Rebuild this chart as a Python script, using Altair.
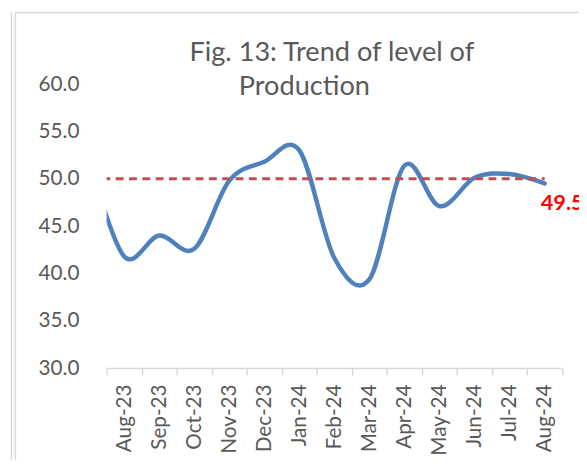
import altair as alt
import pandas as pd

# Data (Jul-23 is just left of the visible range; the lines are clipped at the plot edge)
months = ["Jul-23", "Aug-23", "Sep-23", "Oct-23", "Nov-23", "Dec-23", "Jan-24",
          "Feb-24", "Mar-24", "Apr-24", "May-24", "Jun-24", "Jul-24", "Aug-24"]
production = [52.0, 41.8, 44.0, 42.6, 49.8, 51.8, 53.0,
              41.6, 39.4, 51.4, 47.1, 50.1, 50.5, 49.5]
threshold = [50.0] * len(months)
visible_months = months[1:]
y_ticks = [30, 35, 40, 45, 50, 55, 60]
title_lines = ["Fig. 13: Trend of level of", "Production"]

idx = list(range(-1, len(months) - 1))
df = pd.DataFrame({"idx": idx, "month": months, "value": production, "ref": threshold})
last = df.tail(1)

FONT = "Lato"
GREY = "#595959"
AX = "#d9d9d9"

label_expr = "[" + ",".join("'%s'" % m for m in visible_months) + "][round(datum.value)]"
xscale = alt.Scale(domain=[-0.5, len(visible_months) - 0.5], nice=False, zero=False)
yscale = alt.Scale(domain=[30, 60], nice=False, zero=False)

yaxis = alt.Axis(values=y_ticks, format=".1f", grid=False, domain=False, orient="left",
                 ticks=False, title=None, labelPadding=28,
                 labelFont=FONT, labelFontSize=21, labelColor=GREY)

base = alt.Chart(df)

line = base.mark_line(interpolate="cardinal", tension=0, color="#4f81bd",
                      strokeWidth=4.5, clip=True, strokeCap="round").encode(
    x=alt.X("idx:Q", scale=xscale,
            axis=alt.Axis(values=[i - 0.5 for i in range(len(visible_months) + 1)],
                          orient="bottom", labels=False, grid=False, title=None,
                          domainColor=AX, domainWidth=1.5,
                          tickColor=AX, tickWidth=1.5, tickSize=7)),
    y=alt.Y("value:Q", scale=yscale, axis=yaxis),
)

ref = base.mark_line(color="#c0504d", strokeWidth=3, strokeDash=[8, 5.5],
                     clip=True).encode(
    x=alt.X("idx:Q", scale=xscale,
            axis=alt.Axis(values=list(range(len(visible_months))), labelExpr=label_expr,
                          orient="bottom", labelAngle=270, labelFont=FONT,
                          labelFontSize=21, labelColor=GREY, labelPadding=16,
                          ticks=False, tickSize=0, domain=False, grid=False,
                          title=None)),
    y=alt.Y("ref:Q", scale=yscale, axis=yaxis),
)

end_label = alt.Chart(last).mark_text(
    align="left", baseline="middle", dx=-4, dy=20, font=FONT, fontSize=22,
    fontWeight="bold", color="#ff0000").encode(
    x=alt.X("idx:Q", scale=xscale, axis=None),
    y=alt.Y("value:Q", scale=yscale, axis=yaxis),
    text=alt.Text("value:Q", format=".1f"),
)

tdf = pd.DataFrame({"t": title_lines})
title1 = alt.Chart(tdf.head(1)).mark_text(
    align="left", baseline="alphabetic", font=FONT, fontSize=27.5, color=GREY).encode(
    x=alt.value(84), y=alt.value(-23), text="t:N")
title2 = alt.Chart(tdf.tail(1)).mark_text(
    align="left", baseline="alphabetic", font=FONT, fontSize=27.5, color=GREY).encode(
    x=alt.value(134), y=alt.value(11), text="t:N")

bdf = pd.DataFrame({"k": [0]})
border1 = alt.Chart(bdf).mark_rule(color=AX, strokeWidth=1.5).encode(
    x=alt.value(-96.5), y=alt.value(-73), y2=alt.value(400))
border2 = alt.Chart(bdf).mark_rule(color=AX, strokeWidth=1.5).encode(
    x=alt.value(-92.5), y=alt.value(-73), y2=alt.value(400))
border3 = alt.Chart(bdf).mark_rule(color=AX, strokeWidth=1.5).encode(
    x=alt.value(-92.5), x2=alt.value(500), y=alt.value(-72.5))

chart = alt.layer(line, ref, end_label, border1, border2, border3, title1, title2).resolve_axis(
    x="independent"
).properties(
    width=462, height=288,
    padding={"left": 100, "top": 74, "right": 17, "bottom": 90},
    autosize=alt.AutoSizeParams(type="none"),
).configure_view(stroke=None)

chart.save("out.html", embed_options={"renderer": "svg", "actions": False})
